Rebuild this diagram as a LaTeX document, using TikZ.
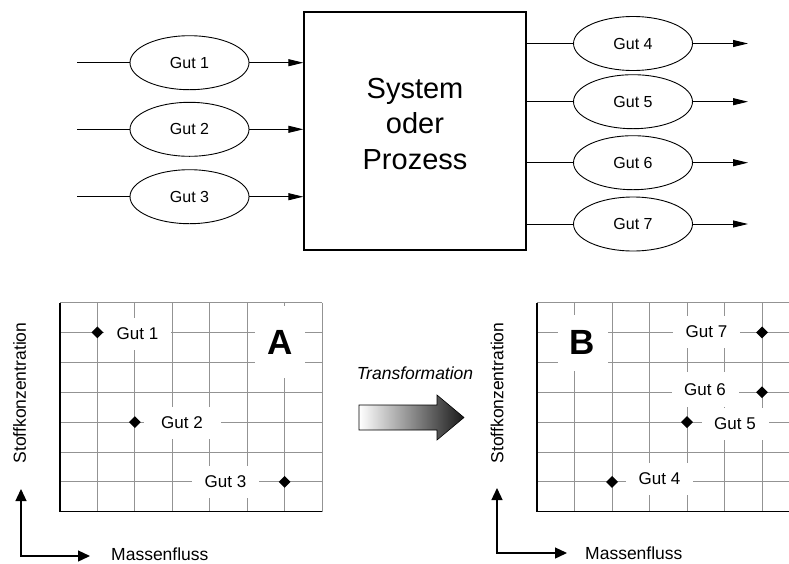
\documentclass[tikz,border=0pt]{standalone}
\usepackage{fontspec}
\setmainfont{Liberation Sans}
\usetikzlibrary{shapes.geometric,arrows.meta}

\begin{document}
\begin{tikzpicture}[x=1pt,y=-1pt,
  ell/.style={draw, ellipse, line width=0.9pt, minimum width=119pt, minimum height=54pt,
    inner sep=0pt, font=\fontsize{16}{19}\selectfont},
  flow/.style={line width=0.9pt, -{Triangle[length=15pt,width=7pt]}},
  plainline/.style={line width=0.9pt},
  gridline/.style={gray!85, line width=0.9pt},
  axisline/.style={line width=1.3pt},
  gutlabel/.style={fill=white, inner sep=0pt, minimum width=67pt, minimum height=32pt,
    font=\fontsize{17}{20}\selectfont},
  bigletter/.style={fill=white, inner sep=0pt, minimum width=50pt, minimum height=60pt,
    font=\fontsize{35}{40}\selectfont\bfseries},
  dot/.style={diamond, fill=black, inner sep=0pt, minimum width=12pt, minimum height=12pt},
  axislabel/.style={inner sep=1pt, font=\fontsize{17.5}{20}\selectfont},
  axisarrow/.style={line width=1.3pt, {Triangle[length=12pt,width=11pt]}-{Triangle[length=12pt,width=11pt]}},
]
\useasboundingbox (0,0) rectangle (789,563);

% ---------- system with input and output goods ----------
\node[draw, line width=1.3pt, minimum width=222pt, minimum height=238pt, inner sep=0pt] (sys) at (415,131) {};
\node[align=center, font=\fontsize{29}{35.5}\selectfont] (systext) at (415,124) {System\\oder\\Prozess};

\node[ell] (g1) at (189.5,62.7) {Gut 1};
\node[ell] (g2) at (189.5,129.3) {Gut 2};
\node[ell] (g3) at (189.5,196.7) {Gut 3};
\coordinate (in1) at (77,62.7);
\coordinate (in2) at (77,129.3);
\coordinate (in3) at (77,196.7);
\foreach \g/\s in {g1/in1, g2/in2, g3/in3} {
  \draw[plainline] (\s) -- (\g.west);
  \draw[flow] (\g.east) -- (\g.east -| sys.west);
}

\node[ell] (g4) at (633,43.5) {Gut 4};
\node[ell] (g5) at (633,101.7) {Gut 5};
\node[ell] (g6) at (633,162.7) {Gut 6};
\node[ell] (g7) at (633,224) {Gut 7};
\coordinate (out4) at (748,43.5);
\coordinate (out5) at (748,101.7);
\coordinate (out6) at (748,162.7);
\coordinate (out7) at (748,224);
\foreach \g/\s in {g4/out4, g5/out5, g6/out6, g7/out7} {
  \draw[plainline] (\g.west -| sys.east) -- (\g.west);
  \draw[flow] (\g.east) -- (\s);
}

% ---------- diagram A ----------
\foreach \i in {0,...,7}
  \draw[gridline] ({60+\i*37.43},302.5) -- ({60+\i*37.43},511.8);
\foreach \j in {0,...,7}
  \draw[gridline] (60,{302.5+\j*29.9}) -- (322,{302.5+\j*29.9});
\draw[axisline] (60,302.5) -- (60,511.8) -- (322,511.8);

\node[gutlabel] (la1) at (137.5,334) {Gut 1};
\node[gutlabel, minimum width=77pt] (la2) at (182,423) {Gut 2};
\node[gutlabel] (la3) at (225.5,482) {Gut 3};
\node[bigletter, minimum height=72pt] (letA) at (280,342) {A};

\node[dot] (pa1) at (97.4,332.4) {};
\node[dot] (pa2) at (134.9,422.1) {};
\node[dot] (pa3) at (284.6,481.9) {};

\node[axislabel, rotate=90] (ya) at (19.5,393) {Stoffkonzentration};
\coordinate (atop) at (21,489);
\coordinate (aright) at (90,556);
\draw[axisarrow] (atop) |- (aright);
\node[axislabel, anchor=west] (xa) at (110,554) {Massenfluss};

% ---------- transformation arrow ----------
\node[font=\fontsize{17.5}{20}\selectfont\itshape] (trans) at (415,373) {Transformation};
\shade[left color=white, right color=black!90, draw=black, line width=0.6pt]
  (359,405) -- (437,405) -- (437,395) -- (464,417.5) -- (437,440) -- (437,430) -- (359,430) -- cycle;

% ---------- diagram B ----------
\begin{scope}
\clip (530,290) rectangle (789,520);
\foreach \i in {0,...,7}
  \draw[gridline] ({537+\i*37.5},302.5) -- ({537+\i*37.5},511.8);
\foreach \j in {0,...,7}
  \draw[gridline] (537,{302.5+\j*29.9}) -- (800,{302.5+\j*29.9});
\draw[axisline] (537,302.5) -- (537,511.8) -- (800,511.8);
\end{scope}

\node[gutlabel] (lb7) at (706.5,331.5) {Gut 7};
\node[gutlabel, minimum height=35pt] (lb6) at (705,389.5) {Gut 6};
\node[gutlabel] (lb5) at (735,424) {Gut 5};
\node[gutlabel] (lb4) at (659.5,479) {Gut 4};
\node[bigletter, minimum height=56pt] (letB) at (582.5,342.5) {B};

\node[dot] (pb7) at (762,332.4) {};
\node[dot] (pb6) at (762,392.2) {};
\node[dot] (pb5) at (687,422.1) {};
\node[dot] (pb4) at (612,481.9) {};

\node[axislabel, rotate=90] (yb) at (497,393) {Stoffkonzentration};
\coordinate (btop) at (497,488);
\coordinate (bright) at (567,553);
\draw[axisarrow] (btop) |- (bright);
\node[axislabel, anchor=west] (xb) at (584,553) {Massenfluss};
\end{tikzpicture}
\end{document}
